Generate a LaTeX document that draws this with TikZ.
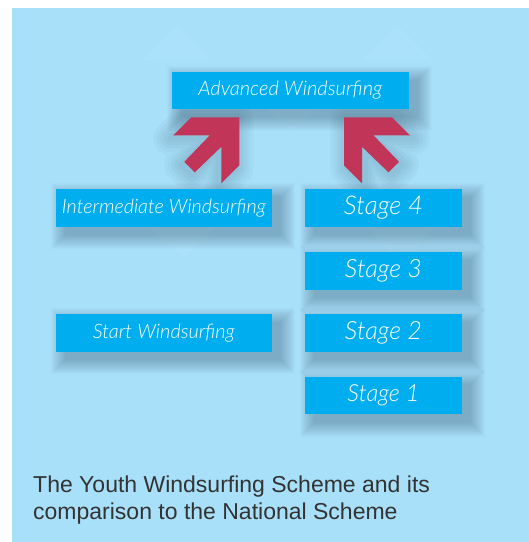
\documentclass[tikz,border=0pt]{standalone}
\usepackage{fontspec}
\newfontfamily\hand{Lato Light Italic}
\newfontfamily\capfont{Liberation Sans}
\definecolor{bgblue}{RGB}{168,224,250}
\definecolor{boxblue}{RGB}{0,174,239}
\definecolor{arrowred}{RGB}{193,53,88}
\definecolor{captext}{RGB}{51,51,51}
\definecolor{shadowcol}{RGB}{45,75,95}
\tikzset{
  levelbox/.style={fill=boxblue, draw=none, inner sep=0pt, text=white},
  blockarrow/.style={fill=arrowred, draw=none},
  glow/.style={draw=shadowcol, draw opacity=0.04, line width=#1, line join=round, fill=none},
  faint/.style={fill=white, fill opacity=0.035, draw=none},
  captxt/.style={anchor=base west, inner sep=0pt, text=captext, font=\capfont\fontsize{23}{27}\selectfont}
}
\newcommand\boxshadow[1]{%
  \foreach \r in {0,...,14}{%
    \fill[shadowcol, fill opacity=0.024]
      ([shift={(9-14+\r,8-14+\r)}]#1.north west) rectangle ([shift={(9+14-\r,8+14-\r)}]#1.south east);
  }}
\newcommand\arrowpath{(0,0) -- (0,48) -- (-18,66) -- (-18,29.5) -- (-44.5,55) -- (-55,44.5) -- (-29.5,18) -- (-66,18) -- (-48,0) -- cycle}
\begin{document}
\begin{tikzpicture}[x=1pt,y=-1pt]
\useasboundingbox (0,0) rectangle (529,542);
\fill[bgblue] (12,8) rectangle (529,542);

% box frames (named first so shadows can refer to them; filled on top later)
\path
  node[minimum width=237.3pt, minimum height=37.3pt, inner sep=0pt] (adv) at (290.35,90.35) {}
  node[minimum width=215.7pt, minimum height=37.7pt, inner sep=0pt] (inter) at (163.85,207.85) {}
  node[minimum width=215.7pt, minimum height=37.7pt, inner sep=0pt] (start) at (163.85,332.9) {}
  node[minimum width=157pt, minimum height=37.7pt, inner sep=0pt] (s4) at (383.5,207.85) {}
  node[minimum width=157pt, minimum height=37.7pt, inner sep=0pt] (s3) at (383.5,270.7) {}
  node[minimum width=157pt, minimum height=37.7pt, inner sep=0pt] (s2) at (383.5,333) {}
  node[minimum width=157pt, minimum height=37.7pt, inner sep=0pt] (s1) at (383.5,395.5) {};

% faint decorative shapes
\fill[faint] (267,109) -- (291.7,131.7) -- (316.7,109) -- cycle;
\fill[faint] (148.3,226.7) -- (183.3,258.3) -- (216.7,226.7) -- cycle;
\fill[faint] (366.7,226.7) -- (390,251.7) -- (412,251.7) -- (435,226.7) -- cycle;
\fill[faint] (142,60) -- (177,25) -- (212,60) -- cycle;
\fill[faint] (362,60) -- (397,25) -- (432,60) -- cycle;

% shadows
\boxshadow{adv}\boxshadow{inter}\boxshadow{start}
\boxshadow{s4}\boxshadow{s3}\boxshadow{s2}\boxshadow{s1}

% block arrows
\coordinate (tipL) at (239.3,117.3);
\coordinate (tipR) at (344,117.3);
\foreach \w in {34,27,20,13,6}{
  \draw[glow=\w pt, shift={(tipL)}, shift={(-3,3)}] \arrowpath;
  \draw[glow=\w pt, shift={(tipR)}, shift={(3,3)}, xscale=-1] \arrowpath;
}
\fill[blockarrow, shift={(tipL)}] \arrowpath;
\fill[blockarrow, shift={(tipR)}, xscale=-1] \arrowpath;

% boxes
\node[levelbox, minimum width=237.3pt, minimum height=37.3pt] at (adv)
  {\resizebox{184pt}{!}{\hand Advanced Windsurfing}};
\node[levelbox, minimum width=215.7pt, minimum height=37.7pt] at (inter)
  {\resizebox{204pt}{!}{\hand Intermediate Windsurfing}};
\node[levelbox, minimum width=215.7pt, minimum height=37.7pt] at (start)
  {\resizebox{142pt}{!}{\hand Start Windsurfing}};
\node[levelbox, minimum width=157pt, minimum height=37.7pt] at (s4)
  {\resizebox{79pt}{!}{\hand Stage 4}};
\node[levelbox, minimum width=157pt, minimum height=37.7pt] at (s3)
  {\resizebox{77pt}{!}{\hand Stage 3}};
\node[levelbox, minimum width=157pt, minimum height=37.7pt] at (s2)
  {\resizebox{77pt}{!}{\hand Stage 2}};
\node[levelbox, minimum width=157pt, minimum height=37.7pt] at (s1)
  {\resizebox{72pt}{!}{\hand Stage 1}};

% caption
\node[captxt] (cap1) at (33,492.3) {The Youth Windsurfing Scheme and its};
\node[captxt] (cap2) at (33,519.3) {comparison to the National Scheme};
\end{tikzpicture}
\end{document}
